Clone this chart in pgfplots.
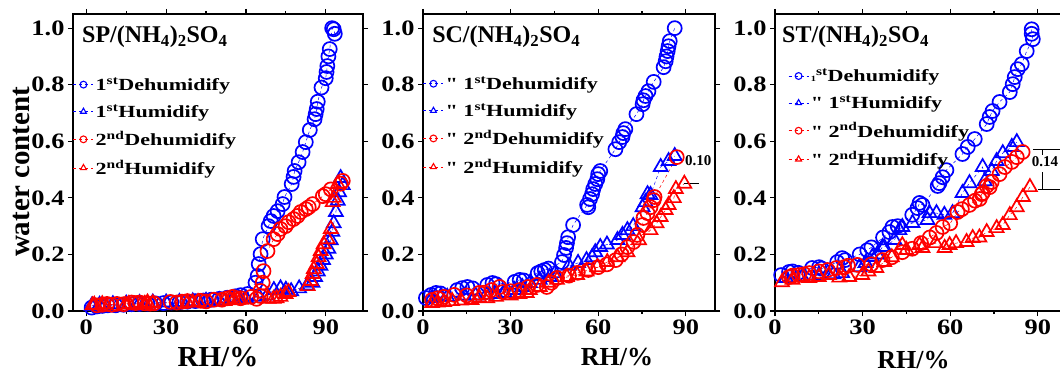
\documentclass[border=0pt]{standalone}
\usepackage{fontspec}
\setmainfont{Liberation Serif}
\newfontfamily\widefont{Liberation Serif}[FakeStretch=1.2]
\newfontfamily\legfont{Liberation Serif}[FakeStretch=1.3]
\usepackage{pgfplots}
\pgfplotsset{compat=1.18}
\pgfplotsset{
 panel/.style={
  scale only axis, height=297pt, ymin=0, ymax=1.05,
  axis line style={line width=1.6pt},
  tick style={line width=1.2pt, black}, tick align=outside,
  major tick length=5pt, minor tick length=3pt,
  xtick={0,30,60,90}, minor x tick num=1,
  ytick={0,0.2,0.4,0.6,0.8,1.0},
  ticklabel style={font=\widefont\bfseries\fontsize{22}{22}\selectfont},
  /pgf/number format/assume math mode=true,
  yticklabel style={/pgf/number format/.cd, fixed, fixed zerofill, precision=1},
  legend style={draw=none, fill=none, inner sep=0pt, anchor=north west,
    font=\legfont\bfseries\fontsize{17}{18}\selectfont,
    row sep=8.5pt, nodes={inner sep=2pt}},
  legend cell align=left,
  legend image code/.code={
    \draw[##1, mark=none, dashed, line width=0.5pt] (0pt,0pt) -- (20pt,0pt);
    \draw[##1, mark size=3.4pt, solid, mark options={line width=1.1pt}] plot coordinates {(10pt,0pt)};
  },
  xlabel style={font=\bfseries\fontsize{26}{26}\selectfont, anchor=center},
 },
 dA/.style={color={rgb,255:red,0;green,0;blue,255}, dashed, line width=0.5pt, mark=o, mark size=7pt, mark options={solid, line width=1.7pt}},
 hA/.style={color={rgb,255:red,0;green,0;blue,255}, dashed, line width=0.5pt, mark=triangle, mark size=8pt, mark options={solid, line width=1.7pt}},
 dB/.style={color={rgb,255:red,255;green,0;blue,0}, dashed, line width=0.5pt, mark=o, mark size=7pt, mark options={solid, line width=1.7pt}},
 hB/.style={color={rgb,255:red,255;green,0;blue,0}, dashed, line width=0.5pt, mark=triangle, mark size=8pt, mark options={solid, line width=1.7pt}},
}
\newcommand{\ttl}[1]{\bfseries\fontsize{24}{24}\selectfont #1/(NH\textsubscript{4})\textsubscript{2}SO\textsubscript{4}}
\begin{document}
\begin{tikzpicture}
\useasboundingbox (0pt,0pt) rectangle (1060pt,373pt);
% ---------------- Panel 1 ----------------
\begin{axis}[panel, at={(73pt,62pt)}, anchor=south west, width=290pt,
  xmin=-5, xmax=104,
  xlabel={RH/\%}, xlabel style={font=\bfseries\fontsize{29}{29}\selectfont, at={(axis description cs:0.5,-0.155)}},
  ylabel={water content}, ylabel style={font=\bfseries\fontsize{29}{29}\selectfont, at={(axis description cs:-0.176,0.468)}, anchor=center},
  legend style={at={(axis description cs:0.0,0.794)}}]
\addplot[dA] coordinates {(2,0.012)(4,0.016)(6,0.018)(8,0.02)(11,0.02)(14,0.022)(17,0.024)(20,0.025)(23,0.026)(26,0.027)(29,0.028)(32,0.03)(35,0.031)(38,0.033)(41,0.035)(44,0.037)(47,0.04)(50,0.043)(53,0.047)(56,0.052)(58,0.056)(60.6,0.06)(63.6,0.10)(64.4,0.124)(64.8,0.166)(65.5,0.201)(66.3,0.254)(68.5,0.30)(69.3,0.318)(70.4,0.336)(71.9,0.353)(73.8,0.378)(74.5,0.403)(77.2,0.449)(77.9,0.474)(78.3,0.495)(79.8,0.526)(81.3,0.562)(82.5,0.597)(84,0.64)(85.8,0.678)(86.2,0.696)(86.6,0.714)(87,0.74)(88.4,0.79)(90,0.823)(90.3,0.845)(90.6,0.866)(91,0.90)(91.5,0.926)(92.4,1.0)(93,0.996)(93.4,0.98)};
\addlegendentry{1\textsuperscript{st}Dehumidify}
\addplot[hA] coordinates {(2,0.018)(5,0.022)(10,0.024)(15,0.026)(20,0.028)(25,0.03)(30,0.03)(35,0.032)(40,0.034)(45,0.036)(50,0.038)(55,0.042)(60,0.045)(65,0.05)(68,0.055)(70.5,0.074)(73,0.08)(75,0.075)(77,0.07)(80,0.08)(83,0.09)(85,0.1)(86,0.12)(87,0.14)(88,0.16)(89,0.18)(90,0.2)(91,0.22)(91.9,0.25)(92.5,0.28)(93,0.31)(93.8,0.35)(94.5,0.39)(95,0.42)(96.4,0.445)(95.6,0.47)};
\addlegendentry{1\textsuperscript{st}Humidify}
\addplot[dB] coordinates {(4,0.02)(6,0.022)(7.8,0.025)(9.5,0.022)(11.5,0.025)(14,0.024)(17,0.03)(18.5,0.028)(20,0.03)(22,0.027)(24,0.026)(25.4,0.027)(31.6,0.032)(34,0.03)(36,0.033)(38,0.035)(43,0.036)(45,0.034)(48,0.04)(51,0.04)(53,0.045)(55,0.05)(58,0.045)(62,0.05)(64,0.043)(65.5,0.053)(65.5,0.071)(66.3,0.10)(66.6,0.141)(68.1,0.212)(70.4,0.254)(71.9,0.272)(73,0.29)(74.9,0.30)(76,0.314)(77.9,0.325)(79.4,0.336)(80.6,0.35)(82.5,0.36)(83.6,0.367)(85.1,0.378)(88.9,0.406)(90,0.413)(91.9,0.43)(95.6,0.45)(96.4,0.46)};
\addlegendentry{2\textsuperscript{nd}Dehumidify}
\addplot[hB] coordinates {(2.3,0.02)(3,0.022)(6,0.024)(14.7,0.022)(16,0.025)(22,0.025)(23,0.03)(25,0.028)(38,0.03)(40,0.03)(42,0.032)(52,0.035)(54,0.038)(55.5,0.04)(57,0.04)(58,0.04)(68.5,0.043)(70.4,0.043)(71.5,0.045)(73,0.05)(74.9,0.06)(76,0.067)(83.2,0.088)(84.3,0.106)(85.1,0.131)(85.5,0.148)(86.6,0.166)(87.3,0.19)(88.1,0.212)(89.2,0.236)(90.7,0.254)(91.9,0.29)(92.6,0.385)(93,0.40)(94.5,0.449)};
\addlegendentry{2\textsuperscript{nd}Humidify}
\node[anchor=west, inner sep=0pt] at (axis description cs:0.031,0.923) {\ttl{SP}};
\end{axis}
% ---------------- Panel 2 ----------------
\begin{axis}[panel, at={(423pt,62pt)}, anchor=south west, width=292pt,
  xmin=0, xmax=100,
  xlabel={RH/\%}, xlabel style={at={(axis description cs:0.664,-0.155)}},
  legend style={at={(axis description cs:0.0,0.797)}}]
\addplot[dA] coordinates {(1,0.046)(2.8,0.057)(4.5,0.064)(6,0.062)(11.7,0.074)(13.4,0.081)(15.2,0.085)(17,0.08)(22,0.092)(23.8,0.099)(25,0.095)(31.4,0.103)(33.1,0.11)(34.5,0.108)(39.3,0.134)(40.5,0.14)(41.7,0.145)(43,0.15)(47.6,0.173)(48.3,0.198)(49,0.223)(49.3,0.24)(49.7,0.261)(51.4,0.304)(56.2,0.375)(56.6,0.367)(57.2,0.396)(57.9,0.413)(58.3,0.431)(59,0.449)(59.7,0.466)(60,0.484)(60.7,0.495)(65.9,0.572)(67.2,0.597)(68.3,0.615)(68.6,0.629)(69.3,0.643)(73.1,0.696)(75.2,0.731)(75.5,0.745)(76.2,0.76)(77.2,0.777)(79,0.81)(82.4,0.862)(83.1,0.883)(83.4,0.90)(83.8,0.919)(84.1,0.936)(84.5,0.954)(86.2,1.0)};
\addlegendentry{" 1\textsuperscript{st}Dehumidify}
\addplot[hA] coordinates {(3.1,0.046)(6,0.05)(8.3,0.05)(14,0.055)(18,0.055)(21.7,0.057)(25,0.06)(27.9,0.064)(31.4,0.074)(34,0.085)(36.6,0.099)(40,0.11)(43.4,0.12)(45.2,0.134)(50,0.16)(53.1,0.17)(56,0.18)(57.9,0.19)(59,0.208)(60.7,0.226)(63,0.235)(66.6,0.251)(68.3,0.269)(70,0.286)(72,0.3)(75.2,0.367)(76.2,0.385)(76.9,0.413)(77.9,0.41)(81.4,0.509)(84.1,0.53)(86.2,0.548)};
\addlegendentry{" 1\textsuperscript{st}Humidify}
\addplot[dB] coordinates {(3.1,0.039)(5,0.045)(7.2,0.05)(10.7,0.057)(15,0.055)(19.3,0.064)(21,0.065)(23.4,0.074)(26.2,0.085)(27.2,0.067)(30,0.07)(33.1,0.074)(36,0.085)(39,0.092)(42.4,0.085)(44,0.1)(45.9,0.117)(50,0.125)(53,0.135)(56.6,0.145)(60,0.155)(63,0.165)(66,0.18)(68,0.2)(70,0.226)(72.1,0.244)(73.4,0.269)(75.2,0.304)(75.5,0.329)(76.9,0.346)(77.9,0.367)(79,0.392)(79.3,0.403)(86.9,0.544)};
\addlegendentry{" 2\textsuperscript{nd}Dehumidify}
\addplot[hB] coordinates {(3.1,0.028)(5,0.03)(7.2,0.032)(10,0.035)(13,0.037)(16.6,0.039)(19.3,0.046)(22,0.045)(25,0.05)(30,0.055)(33,0.06)(35.5,0.064)(36.6,0.074)(40,0.085)(43,0.1)(45.9,0.11)(49.3,0.12)(52.8,0.127)(56,0.14)(59.7,0.155)(63.1,0.173)(66.6,0.19)(70,0.208)(74,0.25)(77.9,0.286)(80,0.31)(81.4,0.332)(83.1,0.357)(84.1,0.375)(85.9,0.399)(86.6,0.431)(89.5,0.45)};
\addlegendentry{" 2\textsuperscript{nd}Humidify}
\node[anchor=west, inner sep=0pt] at (axis description cs:0.031,0.923) {\ttl{SC}};
\node[font=\bfseries\fontsize{15}{15}\selectfont, inner sep=0pt] at (axis cs:94.3,0.53) {0.10};
\draw[line width=1pt] (axis cs:89.3,0.452) -- (axis cs:94.5,0.452);
\end{axis}
% ---------------- Panel 3 ----------------
\begin{axis}[panel, at={(775pt,62pt)}, anchor=south west, width=292pt,
  xmin=0, xmax=100,
  xlabel={RH/\%}, xlabel style={at={(axis description cs:0.474,-0.165)}},
  legend style={at={(axis description cs:0.045,0.823)}}]
\addplot[dA] coordinates {(2.1,0.127)(4.8,0.138)(6,0.14)(8,0.135)(12.7,0.152)(15.1,0.155)(16,0.15)(21.3,0.173)(23,0.187)(24,0.18)(29,0.2)(31.6,0.215)(33,0.225)(37,0.26)(39.2,0.279)(40.2,0.297)(42,0.3)(47,0.34)(48.8,0.364)(49.5,0.382)(50.5,0.375)(55.7,0.442)(56.3,0.452)(57.4,0.473)(58.7,0.498)(64.2,0.555)(66,0.58)(68.4,0.608)(72.5,0.661)(73.5,0.686)(74.5,0.707)(76.9,0.739)(80.4,0.774)(81.4,0.802)(82.1,0.827)(83.1,0.855)(84.5,0.873)(86.2,0.919)(88.3,0.961)(87.9,0.98)(87.9,0.996)};
\addlegendentry{{\fontsize{8}{8}\selectfont 1}\textsuperscript{st}Dehumidify}
\addplot[hA] coordinates {(3.8,0.117)(9.3,0.12)(15.1,0.127)(20,0.13)(23,0.134)(28.9,0.155)(31,0.17)(33.3,0.191)(35,0.2)(36.8,0.226)(37.4,0.226)(40.9,0.251)(42.6,0.286)(43.6,0.297)(47.1,0.311)(52.2,0.322)(52.9,0.346)(55.3,0.346)(58,0.34)(60.8,0.346)(64.2,0.417)(66.6,0.452)(71.1,0.509)(71.8,0.459)(74.2,0.495)(75.9,0.53)(78,0.558)(81.1,0.58)(82.8,0.597)};
\addlegendentry{" 1\textsuperscript{st}Humidify}
\addplot[dB] coordinates {(4.8,0.12)(6,0.125)(8.2,0.127)(10,0.13)(11.7,0.134)(15,0.14)(18,0.145)(21,0.152)(23.7,0.155)(25,0.16)(28.2,0.163)(33,0.165)(36.8,0.18)(40,0.19)(43.6,0.208)(47,0.22)(50,0.24)(53,0.26)(55.3,0.276)(57.4,0.297)(60,0.31)(62.5,0.35)(64,0.36)(66.6,0.375)(68.5,0.39)(70.1,0.396)(70.8,0.413)(71.1,0.417)(72.5,0.442)(73.5,0.438)(74.2,0.456)(76.9,0.484)(78.7,0.509)(81.1,0.527)(82.8,0.544)(84.8,0.562)};
\addlegendentry{" 2\textsuperscript{nd}Dehumidify}
\addplot[hB] coordinates {(2.4,0.102)(6,0.11)(11.7,0.117)(15,0.12)(18.5,0.127)(22,0.118)(25.4,0.12)(29.9,0.127)(32,0.14)(34.7,0.152)(37.4,0.173)(40,0.19)(43.6,0.233)(45,0.216)(49.5,0.233)(50.5,0.223)(55,0.24)(58.1,0.223)(59.8,0.233)(62,0.24)(65.6,0.244)(67.7,0.258)(70,0.26)(72.5,0.279)(75.9,0.293)(78,0.304)(80.4,0.339)(82.8,0.367)(84.9,0.403)(87.3,0.438)};
\addlegendentry{" 2\textsuperscript{nd}Humidify}
\node[anchor=west, inner sep=0pt] at (axis description cs:0.024,0.923) {\ttl{ST}};
\draw[line width=1pt] (axis cs:88.3,0.572) -- (axis cs:97.5,0.572);
\draw[line width=0.8pt] (axis cs:91.7,0.572) -- (axis cs:91.7,0.553);
\node[font=\bfseries\fontsize{15}{15}\selectfont, inner sep=0pt] at (axis cs:92.5,0.527) {0.14};
\draw[line width=0.8pt] (axis cs:91.7,0.49) -- (axis cs:91.7,0.428);
\draw[line width=1pt] (axis cs:90,0.428) -- (axis cs:97.5,0.428);
\end{axis}
\end{tikzpicture}
\end{document}
